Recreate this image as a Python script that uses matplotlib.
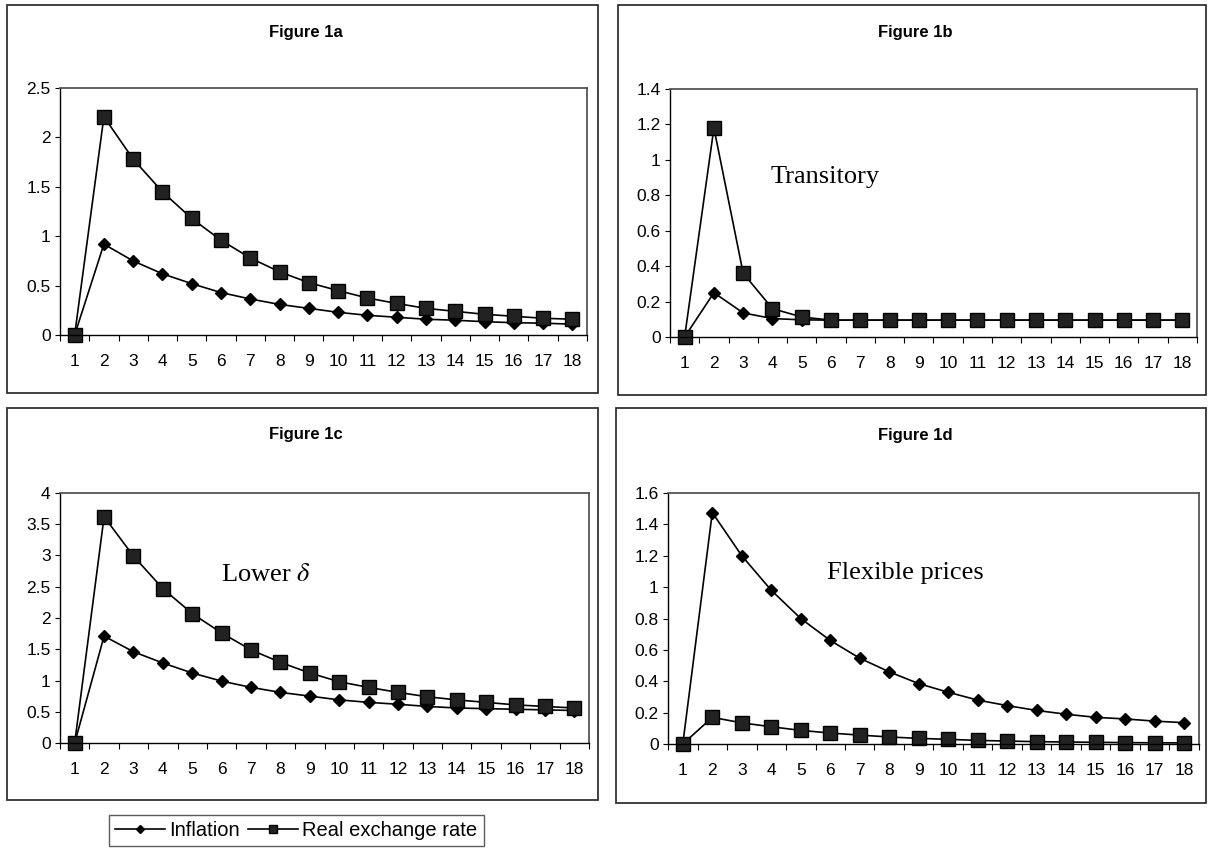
import matplotlib.pyplot as plt
from matplotlib.patches import Rectangle
from matplotlib.ticker import FuncFormatter

periods = list(range(1, 19))

# Figure 1a
infl_a = [0, 0.92, 0.75, 0.62, 0.52, 0.43, 0.365, 0.31, 0.27, 0.23, 0.20, 0.18, 0.16, 0.15, 0.135, 0.125, 0.12, 0.11]
rer_a = [0, 2.21, 1.78, 1.45, 1.18, 0.96, 0.78, 0.64, 0.53, 0.45, 0.375, 0.32, 0.27, 0.24, 0.21, 0.19, 0.17, 0.16]
# Figure 1b
infl_b = [0, 0.25, 0.136, 0.104, 0.097] + [0.095] * 13
rer_b = [0, 1.18, 0.36, 0.16, 0.113] + [0.095] * 13
# Figure 1c
infl_c = [0, 1.71, 1.46, 1.28, 1.12, 0.99, 0.89, 0.81, 0.75, 0.69, 0.65, 0.62, 0.585, 0.56, 0.55, 0.54, 0.53, 0.52]
rer_c = [0, 3.62, 2.99, 2.47, 2.07, 1.76, 1.49, 1.29, 1.12, 0.98, 0.89, 0.81, 0.74, 0.69, 0.65, 0.61, 0.585, 0.56]
# Figure 1d
infl_d = [0, 1.475, 1.20, 0.98, 0.80, 0.66, 0.547, 0.46, 0.385, 0.33, 0.28, 0.245, 0.214, 0.19, 0.17, 0.16, 0.146, 0.136]
rer_d = [0, 0.17, 0.135, 0.11, 0.087, 0.07, 0.057, 0.045, 0.036, 0.03, 0.023, 0.019, 0.015, 0.013, 0.011, 0.009, 0.008, 0.007]

titles = ['Figure 1a', 'Figure 1b', 'Figure 1c', 'Figure 1d']
notes = [None, 'Transitory', r'Lower $\delta$', 'Flexible prices']
y_max = [2.5, 1.4, 4, 1.6]
y_step = [0.5, 0.2, 0.5, 0.2]
inflation = [infl_a, infl_b, infl_c, infl_d]
real_rate = [rer_a, rer_b, rer_c, rer_d]

plt.rcParams['font.family'] = ['Liberation Sans', 'DejaVu Sans']
plt.rcParams['mathtext.fontset'] = 'stix'

fig = plt.figure(figsize=(12.12, 8.51), dpi=100)

# panel frames (left, bottom, width, height) and axes rectangles
frames = [(0.0058, 0.538, 0.4876, 0.456),
          (0.510, 0.536, 0.485, 0.458),
          (0.0058, 0.060, 0.4876, 0.4606),
          (0.508, 0.0564, 0.4868, 0.464)]
axes_pos = [(0.0495, 0.6063, 0.4348, 0.2902),
            (0.5528, 0.6040, 0.4348, 0.2914),
            (0.0495, 0.1269, 0.4365, 0.2938),
            (0.5512, 0.1257, 0.4380, 0.2950)]
title_pos = [(0.252, 0.962), (0.755, 0.962), (0.252, 0.489), (0.755, 0.488)]
note_pos = [None, (0.19, 0.645), (0.305, 0.672), (0.30, 0.68)]

for i in range(4):
    fig.patches.append(Rectangle(frames[i][:2], frames[i][2], frames[i][3],
                                 transform=fig.transFigure, fill=False,
                                 edgecolor='#333333', linewidth=1.3))
    fig.text(title_pos[i][0], title_pos[i][1], titles[i], ha='center', va='center',
             fontsize=12, fontweight='bold')

    ax = fig.add_axes(axes_pos[i])
    l1, = ax.plot(periods, inflation[i], color='black', lw=1.2, marker='D', ms=6.2,
                  mfc='black', mec='black')
    l2, = ax.plot(periods, real_rate[i], color='black', lw=1.2, marker='s', ms=9.5,
                  mfc='#222222', mec='black', mew=1.0)

    ax.set_xlim(0.5, 18.5)
    ax.set_ylim(0, y_max[i])
    n = int(round(y_max[i] / y_step[i]))
    ax.set_yticks([round(k * y_step[i], 2) for k in range(n + 1)])
    ax.yaxis.set_major_formatter(FuncFormatter(lambda v, p: f'{v:g}'))
    ax.set_xticks(periods)
    ax.set_xticks([p - 0.5 for p in periods] + [18.5], minor=True)
    ax.tick_params(axis='x', which='major', length=0, pad=14, labelsize=12.5)
    ax.tick_params(axis='x', which='minor', length=4.5, direction='out', width=0.8)
    ax.tick_params(axis='y', length=3.8, direction='out', width=0.8, labelsize=12.5, pad=3)

    for s in ['top', 'right']:
        ax.spines[s].set_color('#555555')
        ax.spines[s].set_linewidth(1.3)
    for s in ['left', 'bottom']:
        ax.spines[s].set_color('black')
        ax.spines[s].set_linewidth(1.0)

    for ln in (l1, l2):
        ln.set_clip_on(False)

    if notes[i]:
        ax.text(note_pos[i][0], note_pos[i][1], notes[i], transform=ax.transAxes,
                ha='left', va='center', fontsize=19, family='Liberation Serif')

fig.legend([l1, l2], ['Inflation', 'Real exchange rate'], loc='center',
           bbox_to_anchor=(0.2445, 0.0245), ncol=2, frameon=True, fancybox=False,
           edgecolor='#333333', fontsize=14.5, handlelength=2.5, handletextpad=0.2,
           columnspacing=0.4, borderpad=0.3, markerscale=0.65)

plt.savefig('out.png', dpi=100)
